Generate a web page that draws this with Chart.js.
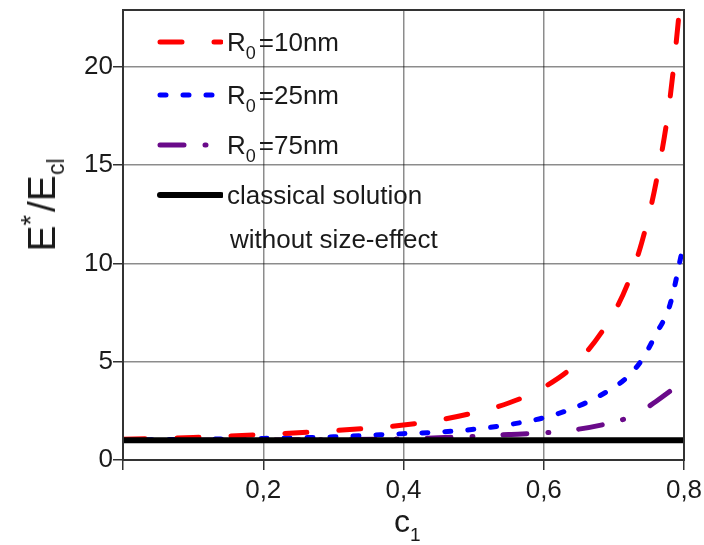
<!DOCTYPE html>
<html>
<head>
<meta charset="utf-8">
<script src="https://cdn.jsdelivr.net/npm/chart.js@4/dist/chart.umd.min.js"></script>
<style>
  html, body { margin: 0; padding: 0; background: #fff; }
  #wrap { position: relative; width: 704px; height: 545px; font-family: "Liberation Sans", Arial, sans-serif; color: #1a1a1a; }
  canvas { position: absolute; left: 0; top: 0; }
  .lbl { position: absolute; white-space: nowrap; font-size: 26px; line-height: 1; }
  .lbl sub { font-size: 18px; position: relative; top: 8px; vertical-align: baseline; margin-right: 3px; }
  .swatch { position: absolute; left: 155px; width: 68px; height: 10px; }
  #ytitle { position: absolute; left: 42px; top: 205px; transform: translate(-50%, -50%) rotate(-90deg); font-size: 39px; white-space: nowrap; }
  #ytitle sup { font-size: 27px; position: relative; top: -4px; vertical-align: top; margin-right: 3px; }
  #ytitle sub { font-size: 23px; position: relative; top: 9px; vertical-align: baseline; }
  #xtitle { position: absolute; left: 394px; top: 503px; font-size: 32px; white-space: nowrap; }
  #xtitle sub { font-size: 19px; position: relative; top: 9px; vertical-align: baseline; }
</style>
</head>
<body>
<div id="wrap">
  <canvas id="chart" width="704" height="545"></canvas>

  <svg class="swatch" style="top:37px"><line x1="5" y1="5" x2="66" y2="5" stroke="#ff0000" stroke-width="5" stroke-linecap="round" stroke-dasharray="22 32"/></svg>
  <div class="lbl" style="left:227px; top:29px">R<sub>0</sub>=10nm</div>

  <svg class="swatch" style="top:90px"><line x1="5" y1="5" x2="66" y2="5" stroke="#0000ff" stroke-width="5" stroke-linecap="round" stroke-dasharray="6 17"/></svg>
  <div class="lbl" style="left:227px; top:82px">R<sub>0</sub>=25nm</div>

  <svg class="swatch" style="top:140px"><line x1="5" y1="5" x2="66" y2="5" stroke="#6a0a8a" stroke-width="5" stroke-linecap="round" stroke-dasharray="24 21 1 30"/></svg>
  <div class="lbl" style="left:227px; top:132px">R<sub>0</sub>=75nm</div>

  <svg class="swatch" style="top:190px"><line x1="5" y1="5" x2="66" y2="5" stroke="#000" stroke-width="6" stroke-linecap="round"/></svg>
  <div class="lbl" style="left:227px; top:182px">classical solution</div>
  <div class="lbl" style="left:230px; top:226px">without size-effect</div>

  <div id="ytitle">E<sup>*</sup>/E<sub>cl</sub></div>
  <div id="xtitle">c<sub>1</sub></div>
</div>

<script>
// concentration c1 sampled along the curves
const c1 = [0, 0.1, 0.2, 0.3, 0.4, 0.45, 0.5, 0.55, 0.6, 0.65, 0.7, 0.72, 0.74, 0.76, 0.78, 0.8];

// E*/E_cl for each particle radius
const r10 = [1.05, 1.15, 1.3, 1.49, 1.78, 2.03, 2.4, 2.9, 3.7, 5.05, 7.5, 9.0, 11.1, 14.1, 18.4, 25.2];
const r25 = [1.02, 1.05, 1.1, 1.18, 1.34, 1.42, 1.56, 1.8, 2.15, 2.75, 3.7, 4.25, 5.1, 6.4, 7.9, 11.1];
const r75 = [1.0, 1.01, 1.02, 1.04, 1.08, 1.13, 1.2, 1.3, 1.38, 1.57, 1.93, 2.15, 2.5, 2.98, 3.5, 4.05];
const classical = [1, 1];
const classicalX = [0, 0.8];

const xTicks = [0, 0.2, 0.4, 0.6, 0.8];
const yTicks = [0, 5, 10, 15, 20];

const pts = (xs, ys) => xs.map((x, i) => ({ x, y: ys[i] }));

// frame around the plotting area
const frame = {
  id: "frame",
  afterDatasetsDraw(chart) {
    const { ctx, chartArea: a } = chart;
    ctx.save();
    ctx.strokeStyle = "#333";
    ctx.lineWidth = 2;
    ctx.strokeRect(a.left, a.top, a.right - a.left, a.bottom - a.top);
    ctx.restore();
  }
};

const curve = (label, data, color, dash, width) => ({
  label,
  data,
  borderColor: color,
  borderWidth: width,
  borderDash: dash,
  borderCapStyle: "round",
  pointRadius: 0,
  cubicInterpolationMode: "monotone",
  showLine: true,
  fill: false
});

const tickFont = { family: "'Liberation Sans', Arial", size: 26 };

new Chart(document.getElementById("chart"), {
  type: "scatter",
  data: {
    datasets: [
      curve("classical", pts(classicalX, classical), "#000", [], 6),
      curve("R0=10nm", pts(c1, r10), "#ff0000", [22, 32], 5),
      curve("R0=25nm", pts(c1, r25), "#0000ff", [6, 17], 5),
      curve("R0=75nm", pts(c1, r75), "#6a0a8a", [24, 21, 1, 30], 5)
    ]
  },
  options: {
    responsive: false,
    animation: false,
    layout: { padding: { top: 10, right: 20, left: 0, bottom: 0 } },
    plugins: { legend: { display: false }, tooltip: { enabled: false } },
    scales: {
      x: {
        type: "linear",
        min: 0,
        max: 0.8,
        afterBuildTicks: s => { s.ticks = xTicks.map(v => ({ value: v })); },
        afterFit: s => { s.height = 85; s.paddingLeft = 0; s.paddingRight = 0; },
        grid: { color: "rgba(0,0,0,0.45)", lineWidth: 1.5, tickLength: 10, tickColor: "#333" },
        border: { display: false },
        ticks: {
          padding: 5,
          color: "#1a1a1a",
          font: tickFont,
          maxRotation: 0,
          callback: v => (v === 0 ? "" : v.toFixed(1).replace(".", ","))
        }
      },
      y: {
        min: 0,
        max: 22.9,
        afterBuildTicks: s => { s.ticks = yTicks.map(v => ({ value: v })); },
        afterFit: s => { s.width = 123; s.paddingTop = 0; s.paddingBottom = 0; },
        grid: { color: "rgba(0,0,0,0.45)", lineWidth: 1.5, tickLength: 10, tickColor: "#333" },
        border: { display: false },
        ticks: {
          padding: 0,
          color: "#1a1a1a",
          font: tickFont
        }
      }
    }
  },
  plugins: [frame]
});
</script>
</body>
</html>
